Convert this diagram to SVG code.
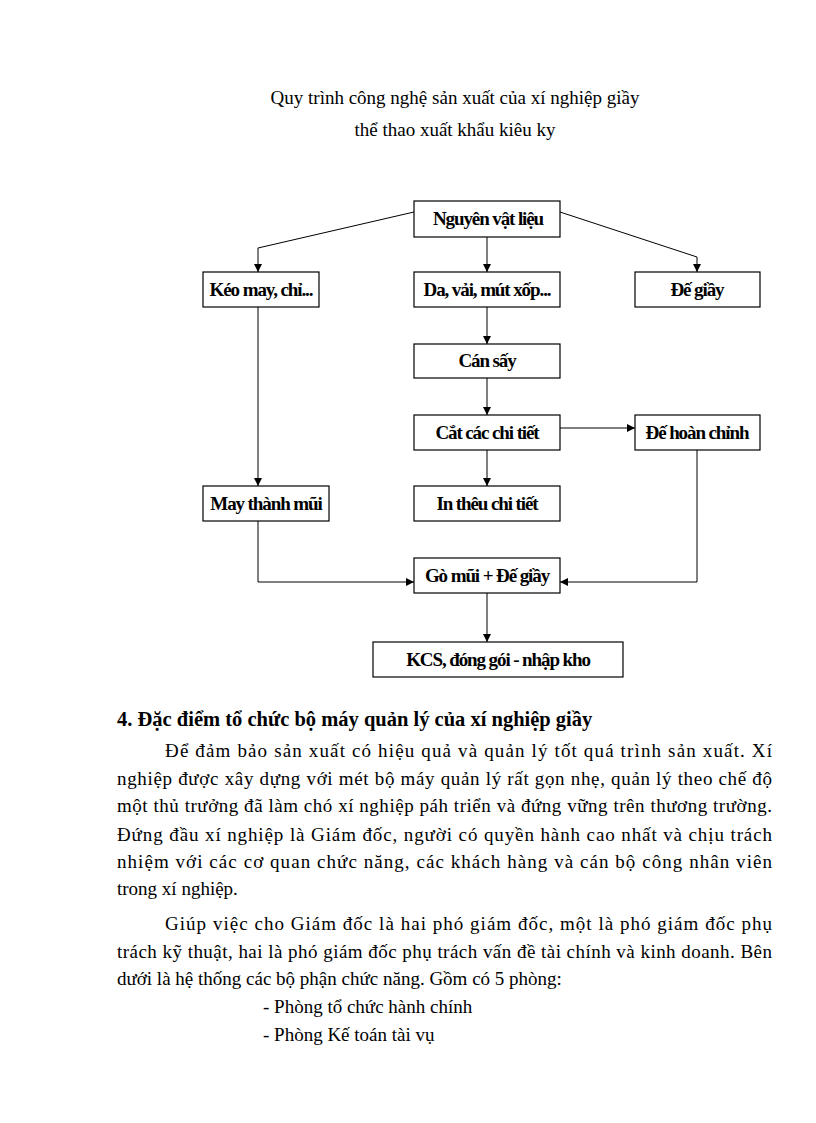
<svg xmlns="http://www.w3.org/2000/svg" width="816" height="1123" viewBox="0 0 816 1123">
<defs>
<style>
.box rect{fill:#fff;stroke:#000;stroke-width:1.2}
.box text{font-family:"Liberation Serif","Times New Roman",serif;font-weight:bold;font-size:19px;letter-spacing:-1.1px;text-anchor:middle;fill:#000}
.conn{fill:none;stroke:#000;stroke-width:1}
.t{font-family:"Liberation Serif","Times New Roman",serif;font-size:19px;fill:#000}
.h{font-weight:bold;font-size:20.5px}
</style>
<marker id="ah" viewBox="0 0 10 10" refX="10" refY="5" markerWidth="8" markerHeight="8" markerUnits="userSpaceOnUse" orient="auto">
<path d="M0,0 L10,5 L0,10 z" fill="#000"/>
</marker>
</defs>
<rect width="816" height="1123" fill="#fff"/>

<text class="t" x="455" y="104" text-anchor="middle">Quy trình công nghệ sản xuất của xí nghiệp  giầy</text>
<text class="t" x="455" y="136" text-anchor="middle">thể thao xuất khẩu kiêu ky</text>

<g id="connectors">
<polyline class="conn" points="414,212 258,248 258,272" marker-end="url(#ah)"/>
<polyline class="conn" points="560,212 697,257 697,272" marker-end="url(#ah)"/>
<line class="conn" x1="487" y1="237" x2="487" y2="272" marker-end="url(#ah)"/>
<line class="conn" x1="487" y1="307" x2="487" y2="344" marker-end="url(#ah)"/>
<line class="conn" x1="487" y1="378" x2="487" y2="415" marker-end="url(#ah)"/>
<line class="conn" x1="487" y1="450" x2="487" y2="486" marker-end="url(#ah)"/>
<line class="conn" x1="560" y1="428" x2="635" y2="428" marker-end="url(#ah)"/>
<line class="conn" x1="258" y1="307" x2="258" y2="486" marker-end="url(#ah)"/>
<polyline class="conn" points="258,521 258,582 414,582" marker-end="url(#ah)"/>
<polyline class="conn" points="697,450 697,582 560,582" marker-end="url(#ah)"/>
<line class="conn" x1="487" y1="593" x2="487" y2="642" marker-end="url(#ah)"/>
</g>

<g id="n-nguyen" class="box"><rect x="414" y="201" width="146" height="36"/><text x="488" y="225">Nguyên vật liệu</text></g>
<g id="n-keo" class="box"><rect x="203" y="272" width="116" height="35"/><text x="261" y="296">Kéo may, chỉ...</text></g>
<g id="n-da" class="box"><rect x="414" y="272" width="146" height="35"/><text x="487" y="296">Da, vải, mút xốp...</text></g>
<g id="n-de" class="box"><rect x="635" y="272" width="125" height="35"/><text x="697" y="296">Đế giầy</text></g>
<g id="n-can" class="box"><rect x="414" y="344" width="146" height="34"/><text x="487" y="367">Cán sấy</text></g>
<g id="n-cat" class="box"><rect x="414" y="415" width="146" height="35"/><text x="487" y="439">Cắt các chi tiết</text></g>
<g id="n-dehc" class="box"><rect x="635" y="415" width="125" height="35"/><text x="697" y="439">Đế hoàn chỉnh</text></g>
<g id="n-may" class="box"><rect x="203" y="486" width="126" height="35"/><text x="266" y="510">May thành mũi</text></g>
<g id="n-in" class="box"><rect x="414" y="486" width="146" height="35"/><text x="487" y="510">In thêu chi tiết</text></g>
<g id="n-go" class="box"><rect x="414" y="558" width="146" height="35"/><text x="487" y="582">Gò mũi + Đế giầy</text></g>
<g id="n-kcs" class="box"><rect x="373" y="642" width="250" height="35"/><text x="498" y="666">KCS, đóng gói - nhập kho</text></g>

<text class="t h" x="117" y="726">4. Đặc điểm tổ chức bộ máy quản lý của xí nghiệp giầy</text>
<text class="t" x="165" y="757" textLength="607" lengthAdjust="spacing">Để đảm bảo sản xuất có hiệu quả và quản lý tốt quá trình sản xuất. Xí</text>
<text class="t" x="117" y="785" textLength="655" lengthAdjust="spacing">nghiệp  được xây dựng với mét bộ máy quản lý rất gọn nhẹ, quản lý theo chế độ</text>
<text class="t" x="117" y="812" textLength="655" lengthAdjust="spacing">một thủ trưởng đã làm chó xí nghiệp páh triển và đứng vững trên thương trường.</text>
<text class="t" x="117" y="841" textLength="655" lengthAdjust="spacing">Đứng đầu xí nghiệp là  Giám đốc, người  có quyền hành cao nhất và chịu trách</text>
<text class="t" x="117" y="868" textLength="655" lengthAdjust="spacing">nhiệm  với các cơ quan chức năng, các khách hàng và cán bộ công nhân viên</text>
<text class="t" x="117" y="895">trong xí nghiệp.</text>
<text class="t" x="165" y="930" textLength="607" lengthAdjust="spacing">Giúp  việc  cho Giám  đốc là  hai  phó giám  đốc, một là  phó giám  đốc phụ</text>
<text class="t" x="117" y="958" textLength="655" lengthAdjust="spacing">trách kỹ thuật, hai là phó giám  đốc phụ trách vấn đề tài chính và kinh  doanh. Bên</text>
<text class="t" x="117" y="985">dưới là hệ thống các bộ phận chức năng. Gồm có 5 phòng:</text>
<text class="t" x="263" y="1013">- Phòng tổ chức hành chính</text>
<text class="t" x="263" y="1041">- Phòng Kế toán tài vụ</text>
</svg>
